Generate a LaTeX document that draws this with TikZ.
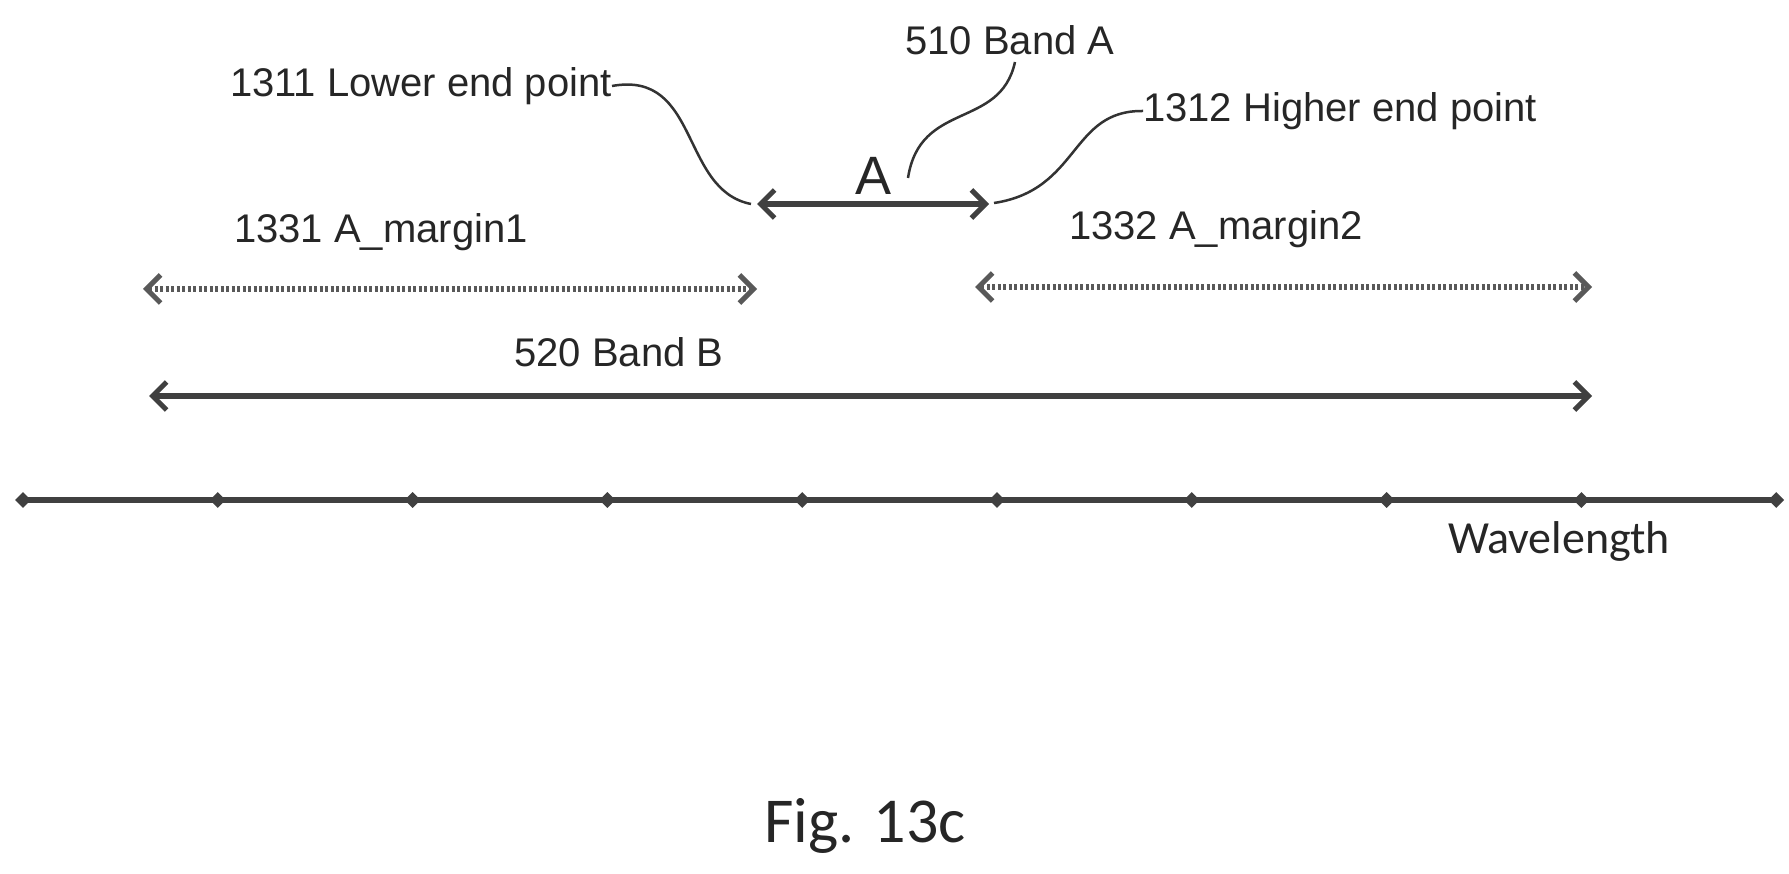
\documentclass[tikz,border=0pt]{standalone}
\usepackage{fontspec}
\setmainfont{Liberation Sans}
\newfontfamily\carlitofont{Carlito}
\usetikzlibrary{arrows.meta,shapes.geometric}
\begin{document}
\begin{tikzpicture}[x=1pt,y=-1pt,
  lbl/.style={font=\fontsize{40}{42}\selectfont, text=black!85, inner sep=0pt},
  band/.style={draw=black!75, line width=6pt, {Straight Barb[length=14pt,width=28pt,line width=5pt]}-{Straight Barb[length=14pt,width=28pt,line width=5pt]}},
  marg/.style={band, dash pattern=on 3pt off 2.5pt, draw=black!65},
  lead/.style={draw=black!80, line width=2.5pt},
  tick/.style={fill=black!75, diamond, inner sep=0pt, minimum size=16pt, shape aspect=0.7}]
\useasboundingbox (0,0) rectangle (1789,874);
% band A
\coordinate (a1) at (757,204); \coordinate (a2) at (989,204);
\draw[band] (a1) -- (a2);
\node[font=\fontsize{54}{56}\selectfont, text=black!85] (A) at (873,176) {A};
\node[lbl, anchor=center] (t510) at (1010,40) {510 Band A};
\node[lbl, anchor=east] (t1311) at (612,86) {1311 Lower end point};
\node[lbl, anchor=west] (t1312) at (1143,111) {1312 Higher end point};
\draw[lead] (t1311.east) .. controls (700,70) and (680,190) .. (751,204);
\draw[lead] (1015,62) .. controls (1000,130) and (920,100) .. (908,178);
\draw[lead] (t1312.west) .. controls (1070,110) and (1080,190) .. (994,203);
% margins
\node[lbl] (m1) at (381,232) {1331 A\_margin1};
\node[lbl] (m2) at (1216,229) {1332 A\_margin2};
\coordinate (m1a) at (143,289); \coordinate (m1b) at (757,289);
\coordinate (m2a) at (975,287); \coordinate (m2b) at (1592,287);
\draw[marg] (m1a) -- (m1b);
\draw[marg] (m2a) -- (m2b);
% band B
\node[lbl] (bB) at (619,352) {520 Band B};
\coordinate (b1) at (149,396); \coordinate (b2) at (1592,396);
\draw[band] (b1) -- (b2);
% axis
\foreach \i in {0,...,9} { \node[tick] (k\i) at ({23+\i*194.8},500) {}; }
\draw[draw=black!75, line width=6pt] (k0.center) -- (k9.center);
\node[font=\carlitofont\fontsize{46}{48}\selectfont, text=black!85] (wl) at (1559,541) {Wavelength};
\node[font=\carlitofont\fontsize{64}{66}\selectfont, text=black!85] (fig) at (865,826) {Fig. 13c};
\end{tikzpicture}
\end{document}
